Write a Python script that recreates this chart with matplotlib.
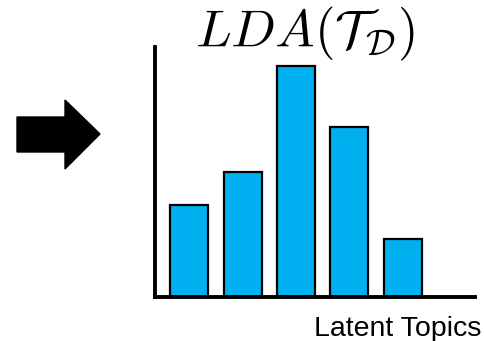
import matplotlib
matplotlib.use("Agg")
import matplotlib.pyplot as plt
from matplotlib.patches import Polygon

topics = [0, 1, 2, 3, 4]
weights = [92, 125, 231, 170, 58]

plt.rcParams["mathtext.fontset"] = "cm"

fig = plt.figure(figsize=(4.84, 3.41), dpi=100)
ax = fig.add_axes([155 / 484, 1 - 297 / 341, 320 / 484, 250 / 341])

ax.bar(topics, weights, width=0.71, color="#00B0F0", edgecolor="black", linewidth=1.6, zorder=2)
ax.set_xlim(-0.64, 5.35)
ax.set_ylim(0, 250)
for side in ("top", "right"):
    ax.spines[side].set_visible(False)
for side in ("left", "bottom"):
    ax.spines[side].set_linewidth(2.8)
ax.set_xticks([])
ax.set_yticks([])

fig.text(305 / 484, 1 - 34 / 341, r"$LDA(\mathcal{T}_\mathcal{D})$", fontsize=38,
         ha="center", va="center")
fig.text(481 / 484, 1 - 336 / 341, "Latent Topics", fontsize=20.5,
         family="Liberation Sans", ha="right", va="baseline")

# arrow on the left
arrow_px = [(17, 117), (65, 117), (65, 100), (100, 134), (65, 169), (65, 152), (17, 152)]
arrow = Polygon([(x / 484, 1 - y / 341) for x, y in arrow_px], closed=True,
                facecolor="black", edgecolor="black", transform=fig.transFigure)
fig.patches.append(arrow)

fig.savefig("out.png", dpi=100)
